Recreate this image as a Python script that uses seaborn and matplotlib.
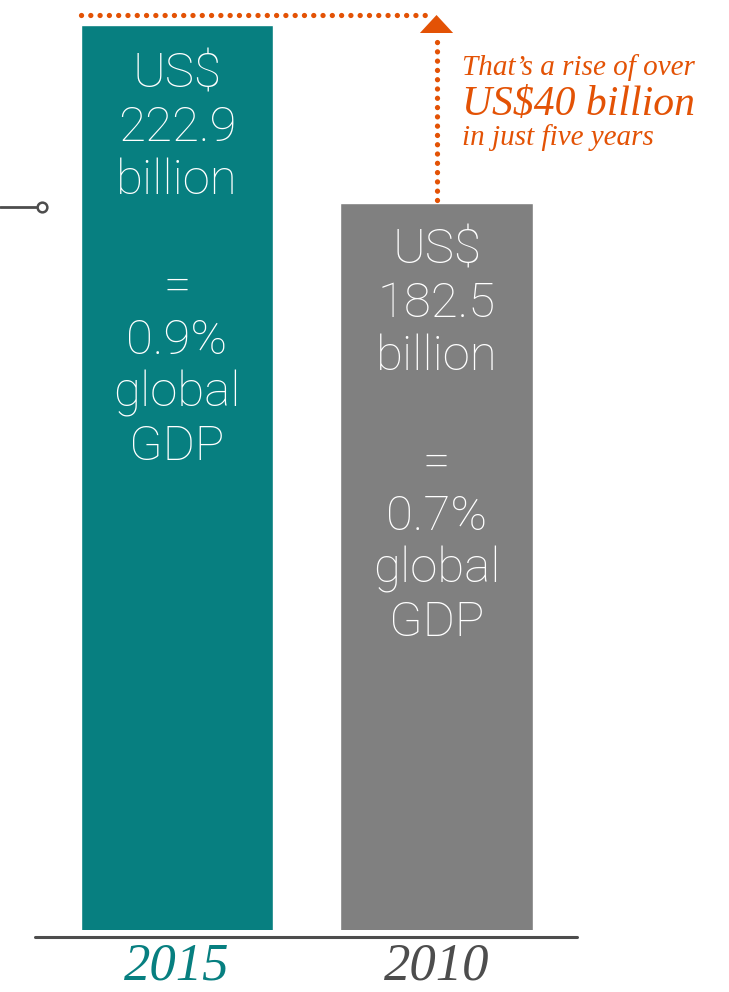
import matplotlib
matplotlib.use("Agg")
import matplotlib.pyplot as plt
import matplotlib.transforms as mtransforms
from matplotlib.patches import Polygon
from matplotlib.lines import Line2D
import seaborn as sns
import pandas as pd

# ---- data ----
years = ["2015", "2010"]
values = [222.9, 182.5]
label_2015 = ["US$", "222.9", "billion", "", "=", "0.9%", "global", "GDP"]
label_2010 = ["US$", "182.5", "billion", "", "=", "0.7%", "global", "GDP"]
note_lines = ["That\u2019s a rise of over", "US$40 billion", "in just five years"]

TEAL = "#077f80"
GRAY = "#808080"
ORANGE = "#e35205"
DARK = "#4d4d4d"

W, H = 729, 992
sns.set_theme(style="white")
fig = plt.figure(figsize=(W / 100, H / 100), dpi=100)

def fy(py):
    return 1 - py / H

# axes: bar bottom at 930 px, teal top at 25 px
ax = fig.add_axes([0, fy(930), 1, (930 - 25) / H])
df = pd.DataFrame({"year": years, "value": values})
sns.barplot(data=df, x="year", y="value", hue="year", palette=[TEAL, GRAY],
            width=0.74, saturation=1, legend=False, ax=ax)
ax.set_ylim(17.5, 222.9)
ax.set_xlim(-0.682, 2.127)
ax.axis("off")

bt = mtransforms.blended_transform_factory(ax.transData, fig.transFigure)

# bar labels
for xi, lines, start in [(0, label_2015, 74), (1, label_2010, 250)]:
    for i, s in enumerate(lines):
        if s:
            ax.text(xi, fy(start + i * 53.3), s, transform=bt, ha="center", va="center",
                    color="white", fontsize=35.5, family="Roboto", fontweight="light")

# year labels
for xi, yr, col in [(0, years[0], TEAL), (1, years[1], DARK)]:
    ax.text(xi, fy(980), yr, transform=bt, ha="center", va="baseline", color=col,
            fontsize=38, family="Liberation Serif", style="italic")

# baseline
fig.add_artist(Line2D([35 / W, 577 / W], [fy(937), fy(937)], color=DARK, lw=2.2,
                      transform=fig.transFigure))

# left connector
fig.add_artist(Line2D([0, 36 / W], [fy(207), fy(207)], color=DARK, lw=2,
                      transform=fig.transFigure))
fig.add_artist(Line2D([42 / W], [fy(207)], marker="o", markersize=7, markerfacecolor="white",
                      markeredgecolor=DARK, markeredgewidth=1.8, transform=fig.transFigure))

# dotted arrows
dot = dict(color=ORANGE, lw=3.8, linestyle=(0, (0.01, 1.75)), dash_capstyle="round",
           transform=bt, clip_on=False)
ax.plot([-0.37, 0.975], [fy(15), fy(15)], **dot)
ax.plot([1, 1], [fy(200), fy(38)], **dot)
ax.add_patch(Polygon([[1 - 0.064, fy(33)], [1 + 0.064, fy(33)], [1, fy(15)]],
                     closed=True, facecolor=ORANGE, edgecolor="none", transform=bt,
                     clip_on=False))

# note
fig.text(462 / W, fy(75), note_lines[0], color=ORANGE, fontsize=21,
         family="Liberation Serif", style="italic", va="baseline", ha="left")
fig.text(462 / W, fy(115), note_lines[1], color=ORANGE, fontsize=30,
         family="Liberation Serif", style="italic", va="baseline", ha="left")
fig.text(462 / W, fy(145), note_lines[2], color=ORANGE, fontsize=21,
         family="Liberation Serif", style="italic", va="baseline", ha="left")

fig.savefig("out.png", dpi=100, facecolor="white")
